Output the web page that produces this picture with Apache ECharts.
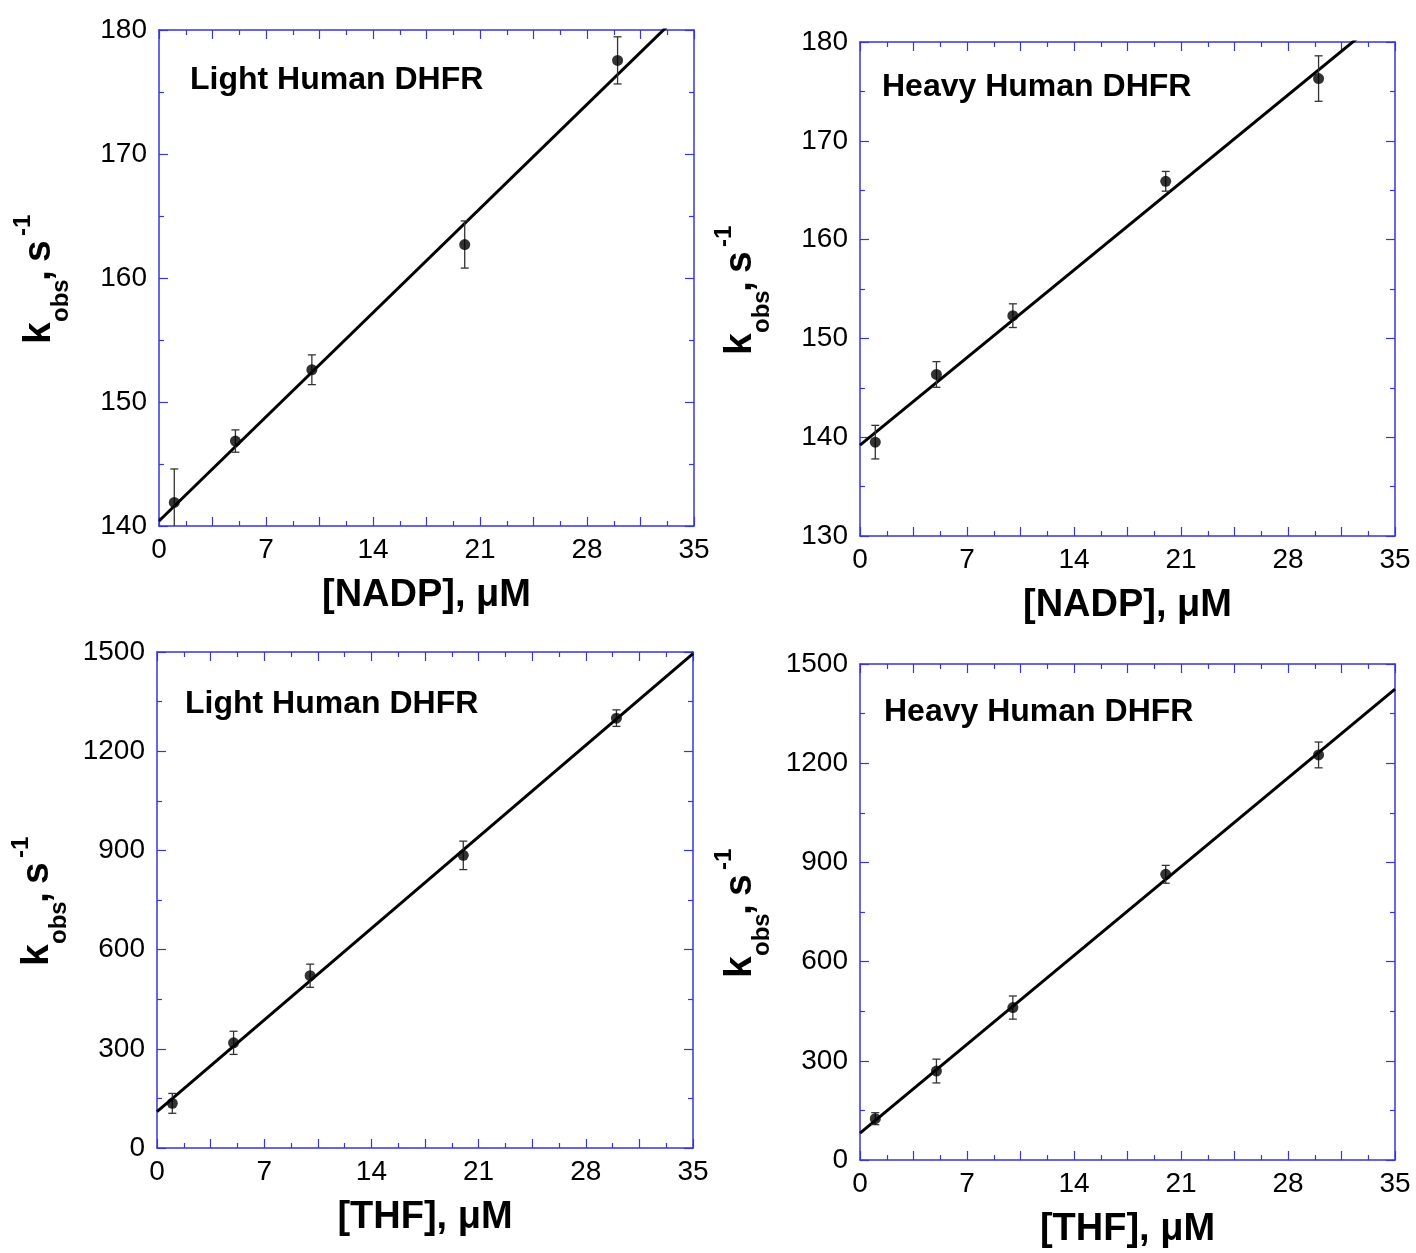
<!DOCTYPE html>
<html>
<head>
<meta charset="utf-8">
<script src="https://cdn.jsdelivr.net/npm/echarts@6/dist/echarts.min.js"></script>
<style>
  html, body { margin: 0; padding: 0; background: #fff; }
  #chart { width: 1416px; height: 1253px; }
</style>
</head>
<body>
<div id="chart"></div>
<script>
// ---------------- data ----------------
const concentrations = [1, 5, 10, 20, 30];           // µM

const lightNadpK   = [141.9, 146.85, 152.6, 162.7, 177.55];
const lightNadpErr = [2.7, 0.9, 1.2, 1.9, 1.9];
const heavyNadpK   = [139.5, 146.35, 152.3, 165.9, 176.3];
const heavyNadpErr = [1.7, 1.3, 1.2, 1.0, 2.3];

const lightThfK    = [135, 318, 521, 885, 1300];
const lightThfErr  = [30, 35, 35, 43, 25];
const heavyThfK    = [125, 269, 461, 864, 1225];
const heavyThfErr  = [18, 36, 35, 27, 39];

// fitted straight lines, read as end points at x = 0 and x = 35
const fitX          = [0, 35];
const lightNadpFit  = [140.4, 182.4];
const heavyNadpFit  = [139.2, 183.5];
const lightThfFit   = [110, 1495];
const heavyThfFit   = [81, 1424];

const xTicks = [0, 7, 14, 21, 28, 35];
const nadpYTicks = [140, 150, 160, 170, 180];
const nadpYTicksHeavy = [130, 140, 150, 160, 170, 180];
const thfYTicks = [0, 300, 600, 900, 1200, 1500];

const panelTitles = ['Light Human DHFR', 'Heavy Human DHFR', 'Light Human DHFR', 'Heavy Human DHFR'];
const xAxisTitles = ['[NADP], \u03bcM', '[NADP], \u03bcM', '[THF], \u03bcM', '[THF], \u03bcM'];

// ---------------- layout ----------------
const FONT = '"Liberation Sans", Arial, Helvetica, sans-serif';
const AX = '#3636dc';

const panels = [
  { left: 159, top: 30,  width: 535, height: 496, y: lightNadpK, err: lightNadpErr, fit: lightNadpFit,
    yMin: nadpYTicks[0], yMax: nadpYTicks[nadpYTicks.length - 1], yInt: 10, titleDx: 31, titleDy: 50 },
  { left: 860, top: 42,  width: 535, height: 494, y: heavyNadpK, err: heavyNadpErr, fit: heavyNadpFit,
    yMin: nadpYTicksHeavy[0], yMax: nadpYTicksHeavy[nadpYTicksHeavy.length - 1], yInt: 10, titleDx: 22, titleDy: 45 },
  { left: 157, top: 652, width: 536, height: 496, y: lightThfK, err: lightThfErr, fit: lightThfFit,
    yMin: thfYTicks[0], yMax: thfYTicks[thfYTicks.length - 1], yInt: 300, titleDx: 28, titleDy: 52 },
  { left: 860, top: 664, width: 535, height: 496, y: heavyThfK, err: heavyThfErr, fit: heavyThfFit,
    yMin: thfYTicks[0], yMax: thfYTicks[thfYTicks.length - 1], yInt: 300, titleDx: 24, titleDy: 48 }
];

const grids = [], xAxes = [], yAxes = [], series = [], graphics = [];

function isMult(v, step) { return Math.abs(v / step - Math.round(v / step)) < 1e-6; }

panels.forEach((p, i) => {
  grids.push({ left: p.left, top: p.top, width: p.width, height: p.height, containLabel: false });

  const common = {
    type: 'value',
    gridIndex: i,
    min: xTicks[0], max: xTicks[xTicks.length - 1], interval: 3.5,
    axisLine: { show: true, onZero: false, lineStyle: { color: AX, width: 1.5 } },
    axisTick: { show: true, inside: true, length: 9, lineStyle: { color: AX, width: 1.2 } },
    minorTick: { show: true, splitNumber: 2, length: 5, lineStyle: { color: AX, width: 1.2 } },
    splitLine: { show: false }, minorSplitLine: { show: false }
  };
  xAxes.push(Object.assign({}, common, {
    position: 'bottom',
    axisLabel: { show: true, color: '#000', fontSize: 28, fontFamily: FONT, margin: 10,
      formatter: v => (isMult(v, 7) ? String(Math.round(v)) : '') },
    name: xAxisTitles[i], nameLocation: 'middle', nameGap: 51,
    nameTextStyle: { color: '#000', fontSize: 38, fontWeight: 'bold', fontFamily: FONT }
  }));
  xAxes.push(Object.assign({}, common, { position: 'top', axisLabel: { show: false } }));

  const ycommon = {
    type: 'value', gridIndex: i, min: p.yMin, max: p.yMax, interval: p.yInt,
    axisLine: { show: true, onZero: false, lineStyle: { color: AX, width: 1.5 } },
    axisTick: { show: true, inside: true, length: 9, lineStyle: { color: AX, width: 1.2 } },
    minorTick: { show: true, splitNumber: 2, length: 5, lineStyle: { color: AX, width: 1.2 } },
    splitLine: { show: false }, minorSplitLine: { show: false }
  };
  yAxes.push(Object.assign({}, ycommon, {
    position: 'left',
    axisLabel: { show: true, color: '#000', fontSize: 28, fontFamily: FONT, margin: 12,
      formatter: v => String(Math.round(v)) }
  }));
  yAxes.push(Object.assign({}, ycommon, { position: 'right', axisLabel: { show: false } }));

  const xi = 2 * i, yi = 2 * i;

  // fit line
  series.push({
    type: 'line', xAxisIndex: xi, yAxisIndex: yi, clip: true, symbol: 'none', silent: true,
    data: fitX.map((x, k) => [x, p.fit[k]]),
    lineStyle: { color: '#000', width: 3 }, z: 3
  });
  // error bars
  series.push({
    type: 'custom', xAxisIndex: xi, yAxisIndex: yi, clip: true, silent: true, z: 4,
    data: concentrations.map((x, k) => [x, p.y[k] - p.err[k], p.y[k] + p.err[k]]),
    renderItem: function (params, api) {
      const lo = api.coord([api.value(0), api.value(1)]);
      const hi = api.coord([api.value(0), api.value(2)]);
      const cw = 4;
      const st = { stroke: '#333', lineWidth: 1.3 };
      return {
        type: 'group',
        children: [
          { type: 'line', shape: { x1: lo[0], y1: lo[1], x2: hi[0], y2: hi[1] }, style: st },
          { type: 'line', shape: { x1: lo[0] - cw, y1: lo[1], x2: lo[0] + cw, y2: lo[1] }, style: st },
          { type: 'line', shape: { x1: hi[0] - cw, y1: hi[1], x2: hi[0] + cw, y2: hi[1] }, style: st }
        ]
      };
    }
  });
  // points
  series.push({
    type: 'scatter', xAxisIndex: xi, yAxisIndex: yi, symbol: 'circle', symbolSize: 11, z: 5,
    itemStyle: { color: '#000' },
    data: concentrations.map((x, k) => [x, p.y[k]])
  });

  // panel title
  graphics.push({
    type: 'text', x: p.left + p.titleDx, y: p.top + p.titleDy,
    style: { text: panelTitles[i], font: 'bold 32px ' + FONT, fill: '#000', align: 'left', verticalAlign: 'middle' }
  });

  // y-axis title  k_obs, s^-1  (rotated)
  const gx = p.left - 120;
  const gy = p.top + p.height / 2 + 66;
  const big = 'bold 39px ' + FONT;
  graphics.push({
    type: 'group', x: gx, y: gy, rotation: Math.PI / 2,
    children: [
      { type: 'text', x: 0,   y: 0,   style: { text: 'k',   font: big, fill: '#000', align: 'left', verticalAlign: 'middle' } },
      { type: 'text', x: 22,  y: 22,  style: { text: 'obs', font: 'bold 24px ' + FONT, fill: '#000', align: 'left', verticalAlign: 'middle' } },
      { type: 'text', x: 63,  y: 0,   style: { text: ',',   font: big, fill: '#000', align: 'left', verticalAlign: 'middle' } },
      { type: 'text', x: 82,  y: 0,   style: { text: 's',   font: big, fill: '#000', align: 'left', verticalAlign: 'middle' } },
      { type: 'text', x: 108, y: -16, style: { text: '-1',  font: 'bold 24px ' + FONT, fill: '#000', align: 'left', verticalAlign: 'middle' } }
    ]
  });
});

const chart = echarts.init(document.getElementById('chart'), null, { renderer: 'canvas', width: 1416, height: 1253 });
chart.setOption({
  animation: false,
  backgroundColor: '#fff',
  textStyle: { fontFamily: FONT },
  grid: grids,
  xAxis: xAxes,
  yAxis: yAxes,
  series: series,
  graphic: graphics
});
</script>
</body>
</html>
